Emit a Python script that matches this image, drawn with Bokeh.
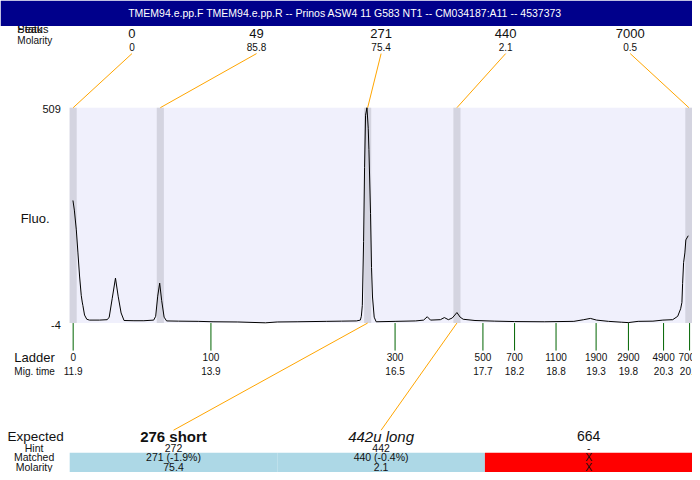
from bokeh.plotting import figure
from bokeh.models import Range1d, ColumnDataSource
from bokeh.core.properties import value, field
from bokeh.embed import file_html
from bokeh.resources import INLINE

# ---------------- data ----------------
title_text = "TMEM94.e.pp.F  TMEM94.e.pp.R -- Prinos ASW4 11 G583 NT1 -- CM034187:A11 -- 4537373"

peak_size = [0, 49, 271, 440, 7000]
peak_molarity = [0, 85.8, 75.4, 2.1, 0.5]
peak_mig = [11.90, 13.14, 16.09, 17.36, 20.66]

ladder_size = [0, 100, 300, 500, 700, 1100, 1900, 2900, 4900, 7000]
ladder_mig = [11.90, 13.86, 16.48, 17.73, 18.18, 18.77, 19.34, 19.80, 20.30, 20.67]

fluo_min, fluo_max = -4, 509

trace_t = [11.897, 11.917, 11.945, 11.968, 11.991, 12.015, 12.029, 12.038, 12.062, 12.094,
           12.132, 12.273, 12.385, 12.413, 12.456, 12.502, 12.540, 12.582, 12.624, 12.765,
           12.906, 13.046, 13.074, 13.103, 13.131, 13.159, 13.194, 13.229, 13.398, 13.679,
           13.890, 14.242, 14.636, 14.804, 15.086, 15.508, 15.719, 15.930, 15.986, 16.000,
           16.014, 16.032, 16.046, 16.060, 16.080, 16.098, 16.108, 16.131, 16.145, 16.159,
           16.183, 16.211, 16.492, 16.773, 16.886, 16.938, 16.984, 17.125, 17.181, 17.238,
           17.294, 17.360, 17.406, 17.449, 17.617, 17.899, 18.180, 18.602, 19.024, 19.164,
           19.259, 19.347, 19.516, 19.699, 19.797, 19.938, 20.149, 20.290, 20.430, 20.501,
           20.543, 20.561, 20.571, 20.585, 20.603, 20.617, 20.651]
trace_f = [288, 265, 218, 163, 108, 62, 46, 38, 15, 5,
           3, 3, 4, 10, 55, 103, 60, 20, 2, 1.5,
           1.5, 3, 12, 60, 91, 50, 10, 1, 0.5, 0,
           -1, -1.5, -3.5, -1.5, -1, 0, 0.5, 1, 3, 12,
           38, 190, 366, 491, 509, 460, 409, 257, 128, 58,
           10, -1, 0, 1, 3, 11, 3, 4, 9, 4,
           8, 21, 10, 5, 2, 0.5, -0.5, -1, 0, 4,
           7, 3, 0, -2, -3, 0, 0.5, 3, 4, 12,
           30, 45, 90, 140, 163, 194, 204]

expected = ["276 short", "442u long", "664"]
expected_style = ["bold", "italic", "normal"]
hint = ["272", "442", "-"]
matched = ["271 (-1.9%)", "440 (-0.4%)", "X"]
matched_molarity = ["75.4", "2.1", "X"]
matched_peak = [2, 3, None]

# ---------------- layout (reference pixels, 700 x 480 design) ----------------
W, H = 692, 472          # canvas size that fits the window
REF_W, REF_H = 700, 480  # design size, scaled onto the canvas by the ranges
PX_PER_S = 71.1
X_REF = 73.5             # pixel of first ladder marker
Y_TOP, Y_BOT = 109, 328  # plot area top/bottom
PLOT_L, PLOT_R = 70, 700
FONT = value("Liberation Sans")


def tx(xr):
    return ladder_mig[0] + (xr - X_REF) / PX_PER_S


def fy(yr):
    return fluo_min + (Y_BOT - yr) * (fluo_max - fluo_min) / (Y_BOT - Y_TOP)


p = figure(width=W, height=H, output_backend="svg", toolbar_location=None,
           x_range=Range1d(tx(0), tx(REF_W)), y_range=Range1d(fy(REF_H), fy(0)),
           min_border=0, outline_line_color=None, background_fill_color="white")
p.axis.visible = False
p.grid.visible = False


def txt(x, y, t, size, align="center", color="#111", style="normal", base="middle"):
    p.text(x=x, y=y, text=t, text_font=FONT, text_font_size=size, text_align=align,
           text_baseline=base, text_color=color, text_font_style=style)


# plot area
p.quad(left=[tx(PLOT_L)], right=[tx(PLOT_R)], bottom=[fluo_min], top=[fluo_max],
       fill_color="#f0f0fc", line_color=None)
hw = 3.6 / PX_PER_S
p.quad(left=[m - hw for m in peak_mig], right=[m + hw for m in peak_mig],
       bottom=[fluo_min] * len(peak_mig), top=[fluo_max] * len(peak_mig),
       fill_color="#d4d4e0", line_color=None)
p.line(trace_t, trace_f, line_color="black", line_width=1)

# ladder ticks
p.segment(x0=ladder_mig, x1=ladder_mig, y0=[fluo_min] * len(ladder_mig),
          y1=[fy(356)] * len(ladder_mig), line_color="#006400", line_width=1)
txt(ladder_mig, [fy(363)] * len(ladder_mig), [str(s) for s in ladder_size], "10px")
txt(ladder_mig, [fy(377)] * len(ladder_mig), [f"{t:.1f}" for t in ladder_mig], "10px")
txt([tx(14)], [fy(363)], ["Ladder"], "13px", align="left")
txt([tx(14)], [fy(377)], ["Mig. time"], "10px", align="left")

# y labels
txt([tx(61)], [fy(110)], [str(fluo_max)], "11px", align="right")
txt([tx(61)], [fy(330)], [str(fluo_min)], "11px", align="right")
txt([tx(35)], [fy(222)], ["Fluo."], "13px")

# top peak labels
n = len(peak_size)
slot = (PLOT_R - PLOT_L) / n
slot_x = [tx(PLOT_L + (i + 0.5) * slot) for i in range(n)]
p.segment(x0=slot_x, y0=[fy(54)] * n, x1=peak_mig, y1=[fluo_max] * n,
          line_color="orange", line_width=1)
txt(slot_x, [fy(34)] * n, [str(s) for s in peak_size], "13px")
txt(slot_x, [fy(47)] * n, [str(m) for m in peak_molarity], "10px")
txt([tx(17)], [fy(28.5)], ["Peak"], "11px", align="left")
txt([tx(17)], [fy(28.5)], ["Status"], "11px", align="left")
txt([tx(17)], [fy(41)], ["Molarity"], "10px", align="left")

# expected table
k = len(expected)
cw = (PLOT_R - PLOT_L) / k
col_l = [tx(PLOT_L + i * cw) for i in range(k)]
col_r = [tx(PLOT_L + (i + 1) * cw) for i in range(k)]
col_c = [tx(PLOT_L + (i + 0.5) * cw) for i in range(k)]
p.quad(left=col_l, right=col_r, bottom=[fy(REF_H)] * k, top=[fy(460)] * k,
       fill_color=["lightblue" if m is not None else "red" for m in matched_peak],
       line_color=None)
for i, m in enumerate(matched_peak):
    if m is not None:
        p.segment(x0=[peak_mig[m]], y0=[fluo_min], x1=[col_c[i]], y1=[fy(437)],
                  line_color="orange", line_width=1)
src = ColumnDataSource(dict(x=col_c, y=[fy(443)] * k, t=expected, st=expected_style,
                            sz=["15px", "15px", "14px"]))
p.text(x="x", y="y", text="t", source=src, text_font=FONT, text_font_size=field("sz"),
       text_font_style=field("st"), text_align="center", text_baseline="middle",
       text_color="#111")
txt(col_c, [fy(455)] * k, hint, "10.5px")
txt(col_c, [fy(464.5)] * k, matched, "10.5px")
txt(col_c, [fy(474)] * k, matched_molarity, "10.5px")
txt([tx(7)], [fy(443)], ["Expected"], "13.5px", align="left")
txt([tx(34)] * 3, [fy(455), fy(464.5), fy(474)], ["Hint", "Matched", "Molarity"], "10.5px")

# title bar
p.quad(left=[tx(0)], right=[tx(REF_W)], bottom=[fy(26)], top=[fy(0)],
       fill_color="#00008b", line_color=None)
txt([tx(350)], [fy(13)], [title_text], "10.5px", color="white")

open("out.html", "w").write(file_html(p, INLINE))
